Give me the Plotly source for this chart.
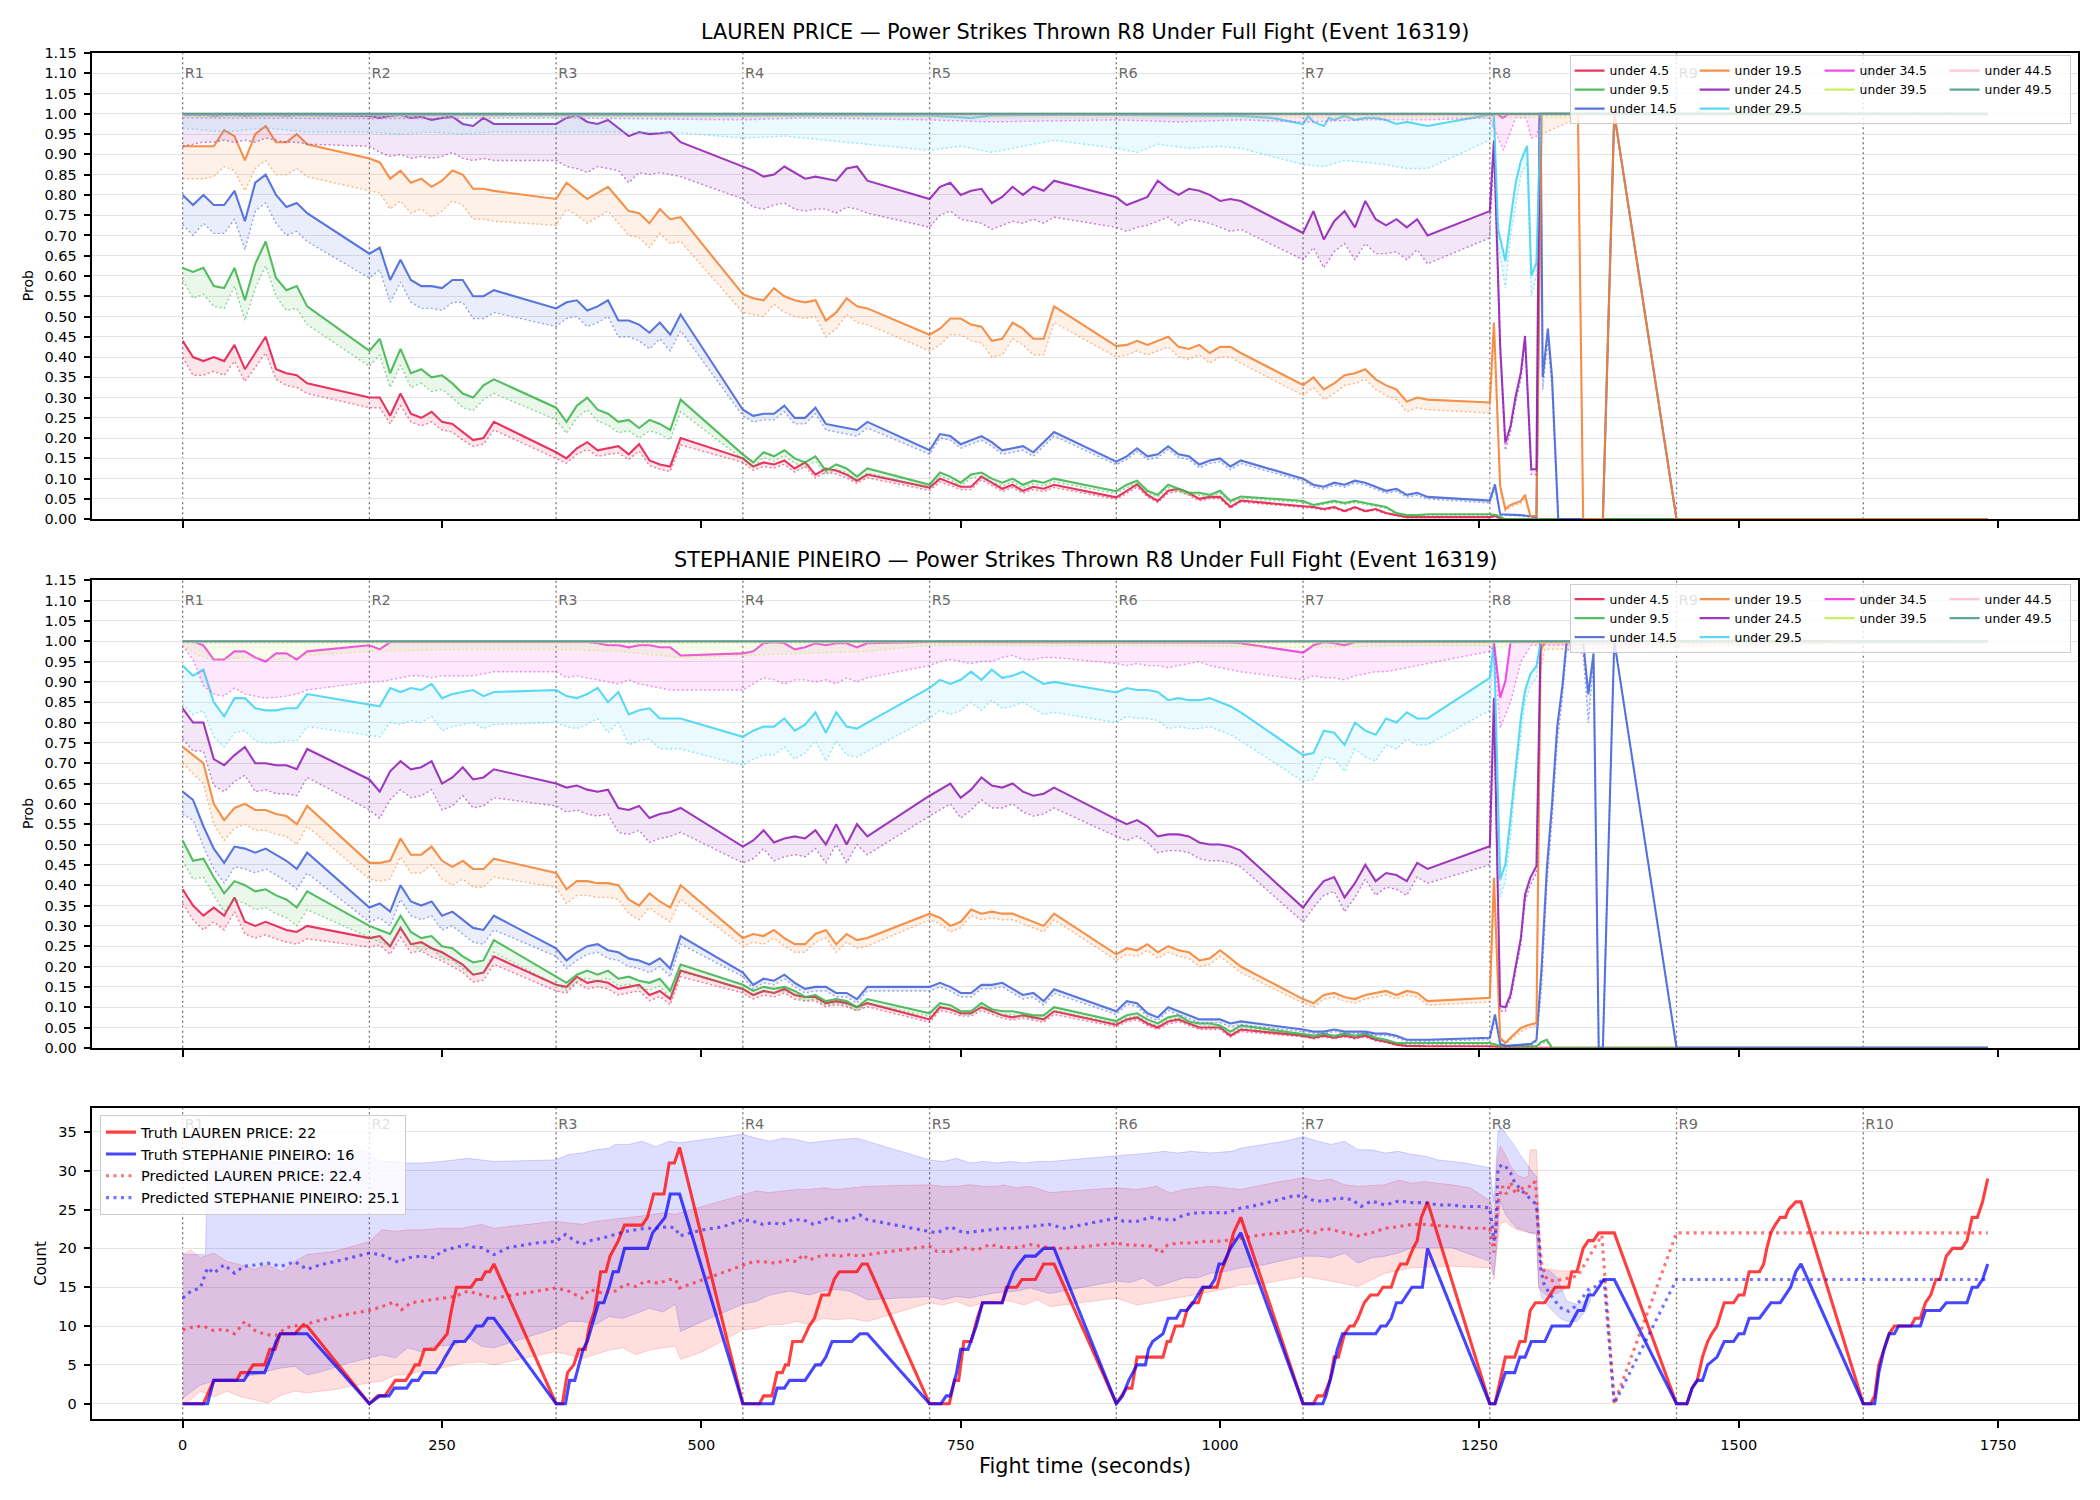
import plotly.graph_objects as go

FONT = "DejaVu Sans"
W, H = 2100, 1500

# ---------------------------------------------------------------- structure
ROUND_STARTS = [0, 180, 360, 540, 720, 900, 1080, 1260, 1440, 1620]
ROUND_NAMES = ["R1", "R2", "R3", "R4", "R5", "R6", "R7", "R8", "R9", "R10"]
GRID_OFFSETS = [0, 10, 20, 30, 40, 50, 60, 70, 80, 90, 100, 110, 120]

THRESHOLD_NAMES = ["under 4.5", "under 9.5", "under 14.5", "under 19.5", "under 24.5",
                   "under 29.5", "under 34.5", "under 39.5", "under 44.5", "under 49.5"]
THRESHOLD_COLORS = ["#e6194b", "#3cb44b", "#4363d8", "#f58231", "#911eb4",
                    "#42d4f4", "#f032e6", "#bfef45", "#fabed4", "#469990"]
LEGEND_COLUMN = [1, 1, 1, 2, 2, 2, 3, 3, 4, 4]

TITLE_LAUREN = "LAUREN PRICE \u2014 Power Strikes Thrown R8 Under Full Fight (Event 16319)"
TITLE_STEPH = "STEPHANIE PINEIRO \u2014 Power Strikes Thrown R8 Under Full Fight (Event 16319)"

# ================================================================ LAUREN PRICE
# rounds R1..R7 sampled every 10 s of the 120 s of action; tails as (t, p)
L_U4_MAIN = [
    [0.44, 0.40, 0.39, 0.40, 0.39, 0.43, 0.37, 0.41, 0.45, 0.37, 0.36, 0.355, 0.335],
    [0.30, 0.30, 0.255, 0.31, 0.26, 0.25, 0.265, 0.24, 0.235, 0.215, 0.195, 0.20, 0.24],
    [0.165, 0.15, 0.175, 0.19, 0.17, 0.175, 0.18, 0.16, 0.185, 0.145, 0.135, 0.13, 0.20],
    [0.15, 0.13, 0.14, 0.135, 0.145, 0.125, 0.14, 0.11, 0.125, 0.12, 0.11, 0.095, 0.11],
    [0.078, 0.10, 0.09, 0.08, 0.08, 0.105, 0.09, 0.075, 0.085, 0.07, 0.08, 0.075, 0.085],
    [0.054, 0.07, 0.086, 0.06, 0.045, 0.07, 0.075, 0.065, 0.05, 0.055, 0.055, 0.03, 0.046],
    [0.032, 0.03, 0.025, 0.03, 0.02, 0.03, 0.02, 0.025, 0.015, 0.01, 0.005, 0.005, 0.005]]
L_U4_LOW = [
    [0.40, 0.355, 0.355, 0.365, 0.355, 0.39, 0.34, 0.375, 0.41, 0.345, 0.33, 0.325, 0.31],
    [0.275, 0.275, 0.235, 0.28, 0.24, 0.23, 0.24, 0.22, 0.215, 0.195, 0.18, 0.185, 0.22],
    [0.15, 0.138, 0.16, 0.172, 0.155, 0.16, 0.163, 0.147, 0.168, 0.132, 0.123, 0.118, 0.183],
    [0.14, 0.121, 0.13, 0.126, 0.135, 0.116, 0.13, 0.102, 0.116, 0.111, 0.102, 0.088, 0.102],
    [0.071, 0.092, 0.083, 0.073, 0.073, 0.097, 0.083, 0.068, 0.078, 0.064, 0.073, 0.068, 0.078],
    [0.049, 0.064, 0.079, 0.055, 0.041, 0.064, 0.069, 0.059, 0.045, 0.05, 0.05, 0.027, 0.042],
    [0.029, 0.027, 0.022, 0.027, 0.018, 0.027, 0.018, 0.022, 0.013, 0.009, 0.004, 0.004, 0.004]]
L_U4_TAIL = [(1260, 0.005), (1265, 0.008), (1272, 0.0), (1740, 0.0)]
L_U4_TAIL_LOW = [(1260, 0.004), (1265, 0.006), (1272, 0.0), (1740, 0.0)]

L_U9_MAIN = [
    [0.62, 0.61, 0.62, 0.575, 0.57, 0.62, 0.54, 0.63, 0.685, 0.595, 0.565, 0.575, 0.525],
    [0.415, 0.445, 0.36, 0.42, 0.36, 0.37, 0.35, 0.355, 0.335, 0.31, 0.30, 0.33, 0.345],
    [0.275, 0.24, 0.28, 0.30, 0.27, 0.26, 0.24, 0.245, 0.225, 0.245, 0.235, 0.22, 0.295],
    [0.16, 0.14, 0.165, 0.155, 0.17, 0.15, 0.14, 0.155, 0.12, 0.135, 0.125, 0.105, 0.125],
    [0.085, 0.115, 0.105, 0.09, 0.11, 0.115, 0.10, 0.09, 0.10, 0.085, 0.095, 0.09, 0.10],
    [0.069, 0.085, 0.095, 0.07, 0.06, 0.085, 0.075, 0.065, 0.065, 0.06, 0.07, 0.045, 0.056],
    [0.045, 0.035, 0.04, 0.045, 0.04, 0.045, 0.04, 0.035, 0.03, 0.015, 0.01, 0.01, 0.012]]
L_U9_LOW = [
    [0.59, 0.545, 0.555, 0.525, 0.52, 0.575, 0.49, 0.57, 0.625, 0.55, 0.515, 0.52, 0.48],
    [0.377, 0.405, 0.325, 0.38, 0.325, 0.335, 0.315, 0.32, 0.30, 0.275, 0.268, 0.295, 0.31],
    [0.245, 0.212, 0.25, 0.27, 0.242, 0.232, 0.213, 0.218, 0.2, 0.218, 0.21, 0.196, 0.265],
    [0.148, 0.128, 0.152, 0.143, 0.157, 0.138, 0.128, 0.143, 0.109, 0.123, 0.114, 0.095, 0.114],
    [0.077, 0.106, 0.097, 0.082, 0.101, 0.106, 0.092, 0.082, 0.092, 0.077, 0.087, 0.082, 0.092],
    [0.063, 0.078, 0.088, 0.064, 0.055, 0.078, 0.069, 0.059, 0.059, 0.055, 0.064, 0.04, 0.051],
    [0.041, 0.032, 0.036, 0.041, 0.036, 0.041, 0.036, 0.032, 0.027, 0.013, 0.008, 0.008, 0.01]]
L_U9_TAIL = [(1260, 0.012), (1266, 0.01), (1275, 0.0), (1740, 0.0)]
L_U9_TAIL_LOW = [(1260, 0.01), (1266, 0.008), (1275, 0.0), (1740, 0.0)]

L_U14_MAIN = [
    [0.80, 0.775, 0.80, 0.775, 0.775, 0.81, 0.735, 0.83, 0.85, 0.80, 0.77, 0.78, 0.755],
    [0.655, 0.67, 0.59, 0.64, 0.59, 0.575, 0.575, 0.57, 0.59, 0.59, 0.55, 0.55, 0.565],
    [0.52, 0.535, 0.54, 0.515, 0.525, 0.54, 0.49, 0.49, 0.48, 0.46, 0.485, 0.455, 0.505],
    [0.27, 0.255, 0.26, 0.26, 0.28, 0.25, 0.25, 0.275, 0.235, 0.23, 0.225, 0.22, 0.24],
    [0.17, 0.21, 0.205, 0.185, 0.195, 0.205, 0.19, 0.17, 0.175, 0.18, 0.165, 0.19, 0.215],
    [0.142, 0.155, 0.175, 0.155, 0.16, 0.18, 0.16, 0.155, 0.135, 0.145, 0.15, 0.13, 0.145],
    [0.10, 0.085, 0.08, 0.09, 0.085, 0.095, 0.09, 0.08, 0.07, 0.075, 0.06, 0.065, 0.055]]
L_U14_LOW = [
    [0.727, 0.70, 0.73, 0.705, 0.705, 0.74, 0.665, 0.76, 0.78, 0.73, 0.70, 0.71, 0.685],
    [0.595, 0.615, 0.535, 0.585, 0.535, 0.52, 0.52, 0.515, 0.535, 0.535, 0.495, 0.495, 0.51],
    [0.475, 0.495, 0.50, 0.475, 0.485, 0.50, 0.45, 0.45, 0.44, 0.42, 0.445, 0.415, 0.465],
    [0.255, 0.24, 0.245, 0.245, 0.265, 0.235, 0.235, 0.26, 0.22, 0.215, 0.21, 0.205, 0.225],
    [0.16, 0.2, 0.195, 0.175, 0.185, 0.195, 0.18, 0.16, 0.165, 0.17, 0.155, 0.18, 0.205],
    [0.134, 0.147, 0.167, 0.147, 0.152, 0.172, 0.152, 0.147, 0.127, 0.137, 0.142, 0.122, 0.137],
    [0.094, 0.079, 0.074, 0.084, 0.079, 0.089, 0.084, 0.074, 0.064, 0.069, 0.054, 0.059, 0.05]]
L_U14_TAIL = [(1260, 0.046), (1265, 0.086), (1270, 0.012), (1290, 0.01), (1305, 0.005),
              (1309, 1.0), (1311, 0.35), (1316, 0.47), (1320, 0.35), (1326, 0.0),
              (1369, 0.0), (1380, 1.0), (1440, 0.0), (1740, 0.0)]
L_U14_TAIL_LOW = [(1260, 0.04), (1265, 0.075), (1270, 0.01), (1290, 0.008), (1305, 0.004),
                  (1309, 0.98), (1311, 0.32), (1316, 0.44), (1320, 0.32), (1326, 0.0),
                  (1369, 0.0), (1380, 1.0), (1440, 0.0), (1740, 0.0)]

L_U19_MAIN = [
    [0.92, 0.92, 0.92, 0.92, 0.96, 0.945, 0.885, 0.95, 0.97, 0.93, 0.93, 0.95, 0.925],
    [0.89, 0.88, 0.84, 0.86, 0.83, 0.84, 0.82, 0.835, 0.86, 0.85, 0.815, 0.815, 0.81],
    [0.79, 0.83, 0.81, 0.79, 0.805, 0.82, 0.79, 0.76, 0.755, 0.73, 0.765, 0.74, 0.745],
    [0.555, 0.545, 0.54, 0.57, 0.55, 0.54, 0.535, 0.54, 0.49, 0.51, 0.545, 0.525, 0.52],
    [0.455, 0.47, 0.495, 0.495, 0.48, 0.475, 0.44, 0.445, 0.485, 0.47, 0.445, 0.445, 0.525],
    [0.427, 0.43, 0.44, 0.43, 0.44, 0.45, 0.425, 0.42, 0.43, 0.41, 0.425, 0.425, 0.41],
    [0.331, 0.35, 0.32, 0.335, 0.355, 0.36, 0.37, 0.345, 0.33, 0.32, 0.29, 0.30, 0.295]]
L_U19_LOW = [
    [0.84, 0.84, 0.84, 0.845, 0.87, 0.86, 0.81, 0.865, 0.885, 0.85, 0.85, 0.865, 0.845],
    [0.81, 0.805, 0.765, 0.785, 0.755, 0.765, 0.745, 0.76, 0.785, 0.775, 0.74, 0.74, 0.735],
    [0.725, 0.765, 0.75, 0.73, 0.745, 0.76, 0.73, 0.70, 0.695, 0.67, 0.705, 0.68, 0.685],
    [0.51, 0.505, 0.50, 0.53, 0.51, 0.50, 0.495, 0.50, 0.45, 0.47, 0.505, 0.485, 0.48],
    [0.415, 0.43, 0.455, 0.455, 0.44, 0.435, 0.40, 0.405, 0.445, 0.43, 0.405, 0.405, 0.485],
    [0.40, 0.405, 0.415, 0.405, 0.415, 0.425, 0.40, 0.395, 0.405, 0.385, 0.40, 0.40, 0.385],
    [0.305, 0.325, 0.295, 0.31, 0.33, 0.335, 0.345, 0.32, 0.305, 0.295, 0.265, 0.275, 0.27]]
L_U19_TAIL = [(1260, 0.288), (1264, 0.485), (1270, 0.082), (1275, 0.025), (1280, 0.035),
              (1285, 0.04), (1290, 0.045), (1294, 0.06), (1299, 0.008), (1305, 0.008),
              (1310, 1.0), (1345, 1.0), (1350, 0.0), (1369, 0.0), (1380, 1.0),
              (1440, 0.0), (1740, 0.0)]
L_U19_TAIL_LOW = [(1260, 0.262), (1264, 0.46), (1270, 0.07), (1275, 0.02), (1280, 0.03),
                  (1285, 0.035), (1290, 0.04), (1294, 0.05), (1299, 0.005), (1305, 0.005),
                  (1310, 0.95), (1345, 0.99), (1350, 0.0), (1369, 0.0), (1380, 1.0),
                  (1440, 0.0), (1740, 0.0)]

L_U24_MAIN = [
    [0.998, 0.997, 0.998, 0.996, 0.997, 0.998, 0.996, 0.997, 0.998, 0.997, 0.996, 0.997, 0.997],
    [0.995, 0.99, 0.995, 0.998, 0.99, 0.993, 0.985, 0.99, 0.993, 0.975, 0.97, 0.99, 0.975],
    [0.975, 0.99, 0.997, 0.98, 0.975, 0.985, 0.965, 0.945, 0.955, 0.95, 0.952, 0.955, 0.93],
    [0.87, 0.86, 0.845, 0.85, 0.87, 0.855, 0.84, 0.845, 0.84, 0.835, 0.865, 0.87, 0.835],
    [0.79, 0.82, 0.83, 0.80, 0.81, 0.815, 0.78, 0.795, 0.82, 0.80, 0.82, 0.81, 0.835],
    [0.794, 0.775, 0.785, 0.795, 0.835, 0.815, 0.80, 0.815, 0.81, 0.80, 0.785, 0.79, 0.785],
    [0.706, 0.76, 0.69, 0.735, 0.76, 0.72, 0.785, 0.74, 0.725, 0.74, 0.72, 0.74, 0.70]]
L_U24_LOW = [
    [0.92, 0.925, 0.93, 0.93, 0.935, 0.93, 0.935, 0.93, 0.94, 0.935, 0.93, 0.93, 0.925],
    [0.92, 0.905, 0.895, 0.90, 0.89, 0.895, 0.89, 0.895, 0.905, 0.89, 0.885, 0.89, 0.885],
    [0.885, 0.87, 0.865, 0.855, 0.87, 0.865, 0.86, 0.83, 0.855, 0.85, 0.855, 0.85, 0.845],
    [0.79, 0.77, 0.765, 0.775, 0.78, 0.765, 0.76, 0.765, 0.765, 0.755, 0.77, 0.765, 0.755],
    [0.72, 0.75, 0.76, 0.74, 0.735, 0.73, 0.715, 0.725, 0.735, 0.73, 0.74, 0.73, 0.745],
    [0.72, 0.71, 0.72, 0.725, 0.735, 0.745, 0.725, 0.74, 0.735, 0.73, 0.72, 0.71, 0.715],
    [0.64, 0.67, 0.62, 0.66, 0.68, 0.64, 0.68, 0.655, 0.655, 0.66, 0.64, 0.665, 0.63]]
L_U24_TAIL = [(1260, 0.76), (1264, 0.934), (1270, 0.428), (1275, 0.189), (1280, 0.23),
              (1285, 0.304), (1290, 0.362), (1294, 0.452), (1300, 0.123), (1305, 0.123),
              (1308, 1.0), (1740, 1.0)]
L_U24_TAIL_LOW = [(1260, 0.694), (1264, 0.91), (1270, 0.41), (1275, 0.17), (1280, 0.215),
                  (1285, 0.29), (1290, 0.345), (1294, 0.44), (1300, 0.11), (1305, 0.11),
                  (1308, 1.0), (1740, 1.0)]

L_U29_MAIN_PTS = [(0, 0.997), (180, 0.997), (360, 0.997), (480, 0.997), (540, 0.997),
                  (720, 0.996), (760, 0.99), (780, 0.996), (840, 0.997), (900, 0.997),
                  (1020, 0.995), (1050, 0.99), (1080, 0.975), (1085, 0.995), (1090, 0.98),
                  (1100, 0.97), (1105, 0.99), (1110, 0.985), (1120, 0.995), (1130, 0.985),
                  (1140, 0.99), (1150, 0.99), (1160, 0.985), (1170, 0.975), (1180, 0.98),
                  (1190, 0.975), (1200, 0.97), (1260, 0.998), (1264, 0.995), (1268, 0.716),
                  (1275, 0.637), (1280, 0.74), (1285, 0.831), (1290, 0.884), (1296, 0.921),
                  (1300, 0.601), (1305, 0.633), (1309, 1.0), (1740, 1.0)]
L_U29_LOW_PTS = [(0, 0.965), (20, 0.96), (40, 0.955), (60, 0.96), (80, 0.965), (100, 0.96),
                 (120, 0.955), (180, 0.955), (210, 0.95), (240, 0.955), (270, 0.95), (300, 0.955),
                 (360, 0.955), (400, 0.955), (480, 0.953), (540, 0.94), (580, 0.945), (620, 0.935),
                 (660, 0.925), (720, 0.91), (750, 0.92), (780, 0.905), (810, 0.92), (840, 0.935),
                 (900, 0.915), (920, 0.905), (940, 0.925), (970, 0.915), (1000, 0.92), (1020, 0.915),
                 (1080, 0.875), (1100, 0.87), (1120, 0.885), (1140, 0.88), (1160, 0.875),
                 (1180, 0.865), (1200, 0.865), (1260, 0.935), (1264, 0.99), (1268, 0.68),
                 (1275, 0.57), (1280, 0.70), (1290, 0.85), (1296, 0.88), (1300, 0.55),
                 (1305, 0.60), (1309, 1.0), (1740, 1.0)]
L_U34_MAIN_PTS = [(0, 0.999), (1268, 0.999), (1272, 0.99), (1278, 0.999), (1740, 0.999)]
L_U34_LOW_PTS = [(0, 0.99), (180, 0.988), (360, 0.99), (540, 0.985), (600, 0.99), (720, 0.985),
                 (780, 0.98), (900, 0.985), (960, 0.98), (1020, 0.985), (1080, 0.98),
                 (1140, 0.985), (1200, 0.985), (1260, 0.99), (1273, 0.91), (1285, 0.99),
                 (1295, 0.99), (1300, 0.94), (1305, 0.945), (1310, 1.0), (1740, 1.0)]
L_U39_MAIN_PTS = [(0, 1.0), (1740, 1.0)]
L_U39_LOW_PTS = [(0, 0.991), (1740, 0.991)]
L_U44_MAIN_PTS = [(0, 1.0), (1740, 1.0)]
L_U44_LOW_PTS = [(0, 0.996), (1740, 0.996)]
L_U49_MAIN_PTS = [(0, 1.0), (1740, 1.0)]
L_U49_LOW_PTS = [(0, 0.999), (1740, 0.999)]

# ============================================================ STEPHANIE PINEIRO
S_U4_MAIN = [
    [0.39, 0.35, 0.325, 0.345, 0.325, 0.37, 0.31, 0.30, 0.31, 0.30, 0.29, 0.285, 0.30],
    [0.27, 0.275, 0.25, 0.295, 0.255, 0.26, 0.245, 0.235, 0.22, 0.205, 0.18, 0.185, 0.225],
    [0.155, 0.15, 0.175, 0.16, 0.165, 0.16, 0.145, 0.15, 0.155, 0.13, 0.14, 0.12, 0.19],
    [0.145, 0.13, 0.14, 0.135, 0.145, 0.13, 0.125, 0.125, 0.11, 0.115, 0.11, 0.10, 0.11],
    [0.07, 0.10, 0.095, 0.085, 0.085, 0.10, 0.09, 0.08, 0.075, 0.08, 0.075, 0.07, 0.09],
    [0.057, 0.07, 0.075, 0.06, 0.05, 0.065, 0.07, 0.06, 0.05, 0.05, 0.05, 0.03, 0.045],
    [0.03, 0.025, 0.03, 0.025, 0.03, 0.025, 0.03, 0.02, 0.015, 0.008, 0.005, 0.004, 0.004]]
S_U4_LOW = [
    [0.355, 0.315, 0.29, 0.31, 0.29, 0.335, 0.28, 0.27, 0.278, 0.268, 0.26, 0.255, 0.268],
    [0.248, 0.253, 0.23, 0.272, 0.234, 0.238, 0.224, 0.214, 0.2, 0.186, 0.162, 0.166, 0.205],
    [0.14, 0.135, 0.16, 0.145, 0.15, 0.145, 0.13, 0.135, 0.14, 0.116, 0.126, 0.106, 0.175],
    [0.135, 0.12, 0.13, 0.125, 0.135, 0.12, 0.115, 0.115, 0.101, 0.106, 0.101, 0.092, 0.101],
    [0.063, 0.092, 0.087, 0.078, 0.078, 0.092, 0.082, 0.073, 0.068, 0.073, 0.068, 0.063, 0.082],
    [0.052, 0.064, 0.069, 0.055, 0.045, 0.059, 0.064, 0.055, 0.045, 0.045, 0.045, 0.026, 0.04],
    [0.027, 0.022, 0.027, 0.022, 0.027, 0.022, 0.027, 0.017, 0.013, 0.006, 0.004, 0.003, 0.003]]
S_U4_TAIL = [(1260, 0.004), (1270, 0.002), (1280, 0.0), (1740, 0.0)]
S_U4_TAIL_LOW = [(1260, 0.003), (1270, 0.001), (1280, 0.0), (1740, 0.0)]

S_U9_MAIN = [
    [0.51, 0.46, 0.465, 0.42, 0.38, 0.41, 0.40, 0.385, 0.39, 0.375, 0.365, 0.345, 0.385],
    [0.30, 0.29, 0.28, 0.325, 0.285, 0.27, 0.275, 0.25, 0.245, 0.225, 0.21, 0.215, 0.265],
    [0.175, 0.16, 0.18, 0.19, 0.18, 0.19, 0.17, 0.175, 0.165, 0.16, 0.17, 0.14, 0.205],
    [0.155, 0.14, 0.15, 0.145, 0.15, 0.14, 0.125, 0.13, 0.115, 0.12, 0.115, 0.10, 0.12],
    [0.085, 0.11, 0.105, 0.09, 0.09, 0.11, 0.095, 0.09, 0.09, 0.085, 0.08, 0.08, 0.10],
    [0.066, 0.08, 0.085, 0.07, 0.06, 0.075, 0.08, 0.065, 0.06, 0.06, 0.055, 0.04, 0.055],
    [0.035, 0.03, 0.035, 0.03, 0.035, 0.03, 0.035, 0.025, 0.02, 0.012, 0.012, 0.012, 0.012]]
S_U9_LOW = [
    [0.46, 0.415, 0.42, 0.375, 0.335, 0.365, 0.355, 0.34, 0.345, 0.33, 0.32, 0.30, 0.34],
    [0.27, 0.26, 0.25, 0.295, 0.255, 0.24, 0.245, 0.22, 0.215, 0.195, 0.18, 0.185, 0.235],
    [0.157, 0.142, 0.162, 0.172, 0.162, 0.172, 0.152, 0.157, 0.147, 0.142, 0.152, 0.122, 0.187],
    [0.145, 0.13, 0.14, 0.135, 0.14, 0.13, 0.115, 0.12, 0.105, 0.11, 0.105, 0.09, 0.11],
    [0.077, 0.102, 0.097, 0.082, 0.082, 0.102, 0.087, 0.082, 0.082, 0.077, 0.072, 0.072, 0.092],
    [0.06, 0.074, 0.079, 0.064, 0.054, 0.069, 0.074, 0.059, 0.054, 0.054, 0.049, 0.035, 0.049],
    [0.031, 0.026, 0.031, 0.026, 0.031, 0.026, 0.031, 0.021, 0.016, 0.009, 0.009, 0.009, 0.009]]
S_U9_TAIL = [(1260, 0.012), (1270, 0.005), (1305, 0.004), (1310, 0.015), (1315, 0.02),
             (1320, 0.0), (1740, 0.0)]
S_U9_TAIL_LOW = [(1260, 0.009), (1270, 0.003), (1305, 0.003), (1310, 0.01), (1315, 0.015),
                 (1320, 0.0), (1740, 0.0)]

S_U14_MAIN = [
    [0.63, 0.61, 0.545, 0.49, 0.455, 0.495, 0.49, 0.48, 0.49, 0.475, 0.46, 0.44, 0.48],
    [0.345, 0.355, 0.335, 0.40, 0.36, 0.35, 0.36, 0.325, 0.335, 0.315, 0.295, 0.29, 0.325],
    [0.245, 0.215, 0.235, 0.25, 0.255, 0.24, 0.235, 0.22, 0.215, 0.205, 0.22, 0.195, 0.275],
    [0.185, 0.155, 0.17, 0.165, 0.18, 0.16, 0.145, 0.15, 0.15, 0.135, 0.135, 0.12, 0.15],
    [0.15, 0.16, 0.15, 0.135, 0.135, 0.155, 0.155, 0.16, 0.145, 0.13, 0.135, 0.115, 0.144],
    [0.09, 0.115, 0.11, 0.085, 0.075, 0.10, 0.09, 0.08, 0.07, 0.07, 0.07, 0.06, 0.065],
    [0.045, 0.04, 0.04, 0.045, 0.04, 0.04, 0.04, 0.035, 0.035, 0.03, 0.02, 0.02, 0.02]]
S_U14_LOW = [
    [0.575, 0.56, 0.495, 0.44, 0.405, 0.445, 0.44, 0.43, 0.44, 0.425, 0.41, 0.39, 0.43],
    [0.31, 0.32, 0.30, 0.365, 0.325, 0.315, 0.325, 0.29, 0.30, 0.28, 0.26, 0.255, 0.29],
    [0.225, 0.195, 0.215, 0.23, 0.235, 0.22, 0.215, 0.2, 0.195, 0.185, 0.2, 0.175, 0.255],
    [0.175, 0.145, 0.16, 0.155, 0.17, 0.15, 0.135, 0.14, 0.14, 0.125, 0.125, 0.11, 0.14],
    [0.14, 0.15, 0.14, 0.125, 0.125, 0.145, 0.145, 0.15, 0.135, 0.12, 0.125, 0.105, 0.134],
    [0.082, 0.107, 0.102, 0.077, 0.067, 0.092, 0.082, 0.072, 0.062, 0.062, 0.062, 0.052, 0.057],
    [0.04, 0.035, 0.035, 0.04, 0.035, 0.035, 0.035, 0.03, 0.03, 0.025, 0.016, 0.016, 0.016]]
S_U14_TAIL = [(1260, 0.025), (1265, 0.082), (1270, 0.01), (1275, 0.005), (1300, 0.01),
              (1305, 0.02), (1310, 0.2), (1315, 0.44), (1320, 0.6), (1325, 0.79),
              (1330, 0.89), (1334, 1.0), (1350, 1.0), (1355, 0.87), (1360, 0.97),
              (1365, 0.0), (1369, 0.0), (1380, 1.0), (1440, 0.0), (1740, 0.0)]
S_U14_TAIL_LOW = [(1260, 0.02), (1265, 0.07), (1270, 0.008), (1275, 0.004), (1300, 0.008),
                  (1305, 0.015), (1310, 0.15), (1315, 0.4), (1320, 0.56), (1325, 0.75),
                  (1330, 0.86), (1334, 0.98), (1350, 0.97), (1355, 0.8), (1360, 0.95),
                  (1365, 0.0), (1369, 0.0), (1380, 1.0), (1440, 0.0), (1740, 0.0)]

S_U19_MAIN = [
    [0.74, 0.72, 0.70, 0.60, 0.56, 0.59, 0.60, 0.585, 0.585, 0.575, 0.57, 0.55, 0.595],
    [0.455, 0.455, 0.46, 0.515, 0.475, 0.475, 0.495, 0.46, 0.445, 0.46, 0.44, 0.44, 0.465],
    [0.43, 0.39, 0.41, 0.41, 0.405, 0.405, 0.40, 0.365, 0.35, 0.38, 0.36, 0.345, 0.40],
    [0.27, 0.28, 0.275, 0.29, 0.27, 0.255, 0.255, 0.28, 0.29, 0.255, 0.28, 0.265, 0.27],
    [0.33, 0.32, 0.30, 0.31, 0.34, 0.33, 0.335, 0.33, 0.33, 0.32, 0.31, 0.30, 0.33],
    [0.23, 0.245, 0.24, 0.255, 0.235, 0.25, 0.24, 0.235, 0.215, 0.22, 0.24, 0.22, 0.20],
    [0.12, 0.11, 0.13, 0.135, 0.125, 0.12, 0.13, 0.135, 0.14, 0.13, 0.14, 0.135, 0.115]]
S_U19_LOW = [
    [0.70, 0.675, 0.65, 0.55, 0.51, 0.54, 0.55, 0.535, 0.535, 0.525, 0.52, 0.50, 0.545],
    [0.415, 0.41, 0.415, 0.47, 0.43, 0.43, 0.45, 0.415, 0.40, 0.415, 0.395, 0.395, 0.42],
    [0.395, 0.355, 0.375, 0.375, 0.37, 0.37, 0.365, 0.33, 0.315, 0.345, 0.325, 0.31, 0.365],
    [0.25, 0.26, 0.255, 0.27, 0.25, 0.235, 0.235, 0.26, 0.27, 0.235, 0.26, 0.245, 0.25],
    [0.315, 0.305, 0.285, 0.295, 0.325, 0.315, 0.32, 0.315, 0.315, 0.305, 0.295, 0.285, 0.315],
    [0.215, 0.23, 0.225, 0.24, 0.22, 0.235, 0.225, 0.22, 0.20, 0.205, 0.225, 0.205, 0.185],
    [0.11, 0.10, 0.12, 0.125, 0.115, 0.11, 0.12, 0.125, 0.13, 0.12, 0.13, 0.125, 0.105]]
S_U19_TAIL = [(1260, 0.123), (1264, 0.418), (1270, 0.025), (1275, 0.012), (1280, 0.025),
              (1285, 0.037), (1290, 0.049), (1298, 0.057), (1305, 0.061), (1309, 0.976),
              (1313, 1.0), (1740, 1.0)]
S_U19_TAIL_LOW = [(1260, 0.113), (1264, 0.39), (1270, 0.02), (1275, 0.008), (1280, 0.02),
                  (1285, 0.03), (1290, 0.04), (1298, 0.05), (1305, 0.054), (1309, 0.93),
                  (1313, 0.98), (1740, 1.0)]

S_U24_MAIN = [
    [0.835, 0.80, 0.80, 0.71, 0.695, 0.72, 0.74, 0.70, 0.70, 0.695, 0.695, 0.685, 0.735],
    [0.66, 0.63, 0.68, 0.705, 0.685, 0.69, 0.705, 0.65, 0.665, 0.69, 0.66, 0.665, 0.685],
    [0.65, 0.64, 0.645, 0.635, 0.63, 0.635, 0.59, 0.585, 0.595, 0.565, 0.575, 0.58, 0.59],
    [0.495, 0.51, 0.535, 0.505, 0.515, 0.52, 0.515, 0.535, 0.50, 0.55, 0.50, 0.55, 0.52],
    [0.62, 0.635, 0.65, 0.615, 0.635, 0.665, 0.645, 0.64, 0.65, 0.63, 0.62, 0.625, 0.64],
    [0.562, 0.55, 0.56, 0.545, 0.52, 0.525, 0.525, 0.52, 0.505, 0.50, 0.50, 0.495, 0.485],
    [0.345, 0.38, 0.41, 0.42, 0.37, 0.405, 0.45, 0.41, 0.43, 0.425, 0.41, 0.455, 0.44]]
S_U24_LOW = [
    [0.76, 0.73, 0.73, 0.645, 0.63, 0.655, 0.67, 0.63, 0.635, 0.625, 0.625, 0.62, 0.665],
    [0.585, 0.565, 0.61, 0.635, 0.615, 0.62, 0.635, 0.585, 0.595, 0.62, 0.59, 0.595, 0.615],
    [0.595, 0.58, 0.585, 0.575, 0.57, 0.575, 0.53, 0.525, 0.535, 0.505, 0.515, 0.52, 0.53],
    [0.455, 0.465, 0.49, 0.46, 0.47, 0.475, 0.47, 0.49, 0.455, 0.5, 0.455, 0.5, 0.475],
    [0.57, 0.585, 0.60, 0.565, 0.585, 0.61, 0.59, 0.59, 0.60, 0.58, 0.57, 0.575, 0.59],
    [0.52, 0.51, 0.52, 0.505, 0.48, 0.485, 0.485, 0.48, 0.465, 0.46, 0.46, 0.455, 0.445],
    [0.31, 0.345, 0.375, 0.385, 0.335, 0.37, 0.415, 0.375, 0.395, 0.39, 0.375, 0.42, 0.405]]
S_U24_TAIL = [(1260, 0.496), (1264, 0.861), (1270, 0.103), (1275, 0.10), (1280, 0.131),
              (1285, 0.205), (1290, 0.271), (1294, 0.377), (1299, 0.418), (1305, 0.447),
              (1309, 1.0), (1740, 1.0)]
S_U24_TAIL_LOW = [(1260, 0.45), (1264, 0.82), (1270, 0.09), (1275, 0.09), (1280, 0.12),
                  (1285, 0.19), (1290, 0.255), (1294, 0.36), (1299, 0.40), (1305, 0.43),
                  (1309, 1.0), (1740, 1.0)]

S_U29_MAIN = [
    [0.94, 0.915, 0.93, 0.85, 0.815, 0.86, 0.86, 0.835, 0.83, 0.83, 0.835, 0.835, 0.87],
    [0.845, 0.84, 0.885, 0.875, 0.885, 0.88, 0.895, 0.86, 0.87, 0.875, 0.88, 0.865, 0.875],
    [0.88, 0.865, 0.86, 0.87, 0.885, 0.85, 0.875, 0.82, 0.83, 0.835, 0.81, 0.81, 0.81],
    [0.765, 0.78, 0.79, 0.79, 0.81, 0.78, 0.795, 0.825, 0.775, 0.825, 0.79, 0.785, 0.80],
    [0.885, 0.905, 0.895, 0.905, 0.925, 0.905, 0.93, 0.91, 0.915, 0.925, 0.91, 0.895, 0.90],
    [0.874, 0.885, 0.88, 0.88, 0.875, 0.855, 0.86, 0.855, 0.855, 0.86, 0.85, 0.84, 0.825],
    [0.72, 0.725, 0.78, 0.775, 0.745, 0.80, 0.78, 0.77, 0.81, 0.80, 0.825, 0.81, 0.81]]
S_U29_LOW = [
    [0.845, 0.82, 0.83, 0.765, 0.74, 0.775, 0.78, 0.755, 0.75, 0.75, 0.755, 0.755, 0.79],
    [0.77, 0.765, 0.80, 0.795, 0.805, 0.80, 0.815, 0.78, 0.79, 0.795, 0.80, 0.785, 0.795],
    [0.80, 0.79, 0.785, 0.795, 0.81, 0.775, 0.80, 0.745, 0.755, 0.76, 0.735, 0.735, 0.735],
    [0.695, 0.71, 0.72, 0.72, 0.74, 0.71, 0.725, 0.755, 0.705, 0.755, 0.72, 0.715, 0.73],
    [0.81, 0.83, 0.82, 0.83, 0.85, 0.83, 0.855, 0.835, 0.84, 0.85, 0.835, 0.82, 0.825],
    [0.80, 0.815, 0.81, 0.81, 0.805, 0.785, 0.79, 0.785, 0.785, 0.79, 0.78, 0.77, 0.755],
    [0.655, 0.66, 0.715, 0.71, 0.68, 0.735, 0.715, 0.705, 0.745, 0.735, 0.76, 0.745, 0.745]]
S_U29_TAIL = [(1260, 0.91), (1264, 1.0), (1270, 0.414), (1275, 0.451), (1280, 0.566),
              (1285, 0.697), (1290, 0.812), (1294, 0.878), (1299, 0.919), (1305, 0.939),
              (1309, 1.0), (1740, 1.0)]
S_U29_TAIL_LOW = [(1260, 0.83), (1264, 0.99), (1270, 0.37), (1275, 0.41), (1280, 0.52),
                  (1285, 0.66), (1290, 0.77), (1294, 0.85), (1299, 0.89), (1305, 0.91),
                  (1309, 1.0), (1740, 1.0)]

S_U34_MAIN = [
    [1.0, 1.0, 0.99, 0.955, 0.955, 0.975, 0.975, 0.96, 0.95, 0.97, 0.97, 0.955, 0.975],
    [0.99, 0.98, 0.998, 0.998, 0.998, 0.998, 0.998, 0.998, 0.998, 0.998, 0.998, 0.998, 0.998],
    [0.998, 0.998, 0.998, 0.998, 0.995, 0.99, 0.99, 0.985, 0.99, 0.99, 0.985, 0.985, 0.965],
    [0.97, 0.975, 0.995, 0.998, 0.995, 0.98, 0.985, 0.995, 0.99, 0.995, 0.995, 0.985, 0.995],
    [0.998, 0.998, 0.998, 0.998, 0.998, 0.998, 0.998, 0.998, 0.998, 0.998, 0.998, 0.998, 0.998],
    [0.998, 0.998, 0.998, 0.998, 0.998, 0.998, 0.998, 0.998, 0.998, 0.998, 0.998, 0.997, 0.995],
    [0.972, 0.99, 0.998, 0.995, 0.99, 0.998, 0.998, 0.998, 0.998, 0.998, 0.998, 0.998, 0.998]]
S_U34_LOW = [
    [0.99, 0.955, 0.89, 0.87, 0.865, 0.885, 0.87, 0.865, 0.86, 0.862, 0.865, 0.87, 0.88],
    [0.90, 0.90, 0.905, 0.91, 0.915, 0.915, 0.91, 0.915, 0.915, 0.915, 0.915, 0.92, 0.925],
    [0.925, 0.91, 0.915, 0.91, 0.905, 0.90, 0.895, 0.905, 0.895, 0.89, 0.885, 0.88, 0.88],
    [0.88, 0.895, 0.91, 0.905, 0.895, 0.905, 0.905, 0.90, 0.905, 0.895, 0.91, 0.90, 0.91],
    [0.94, 0.95, 0.955, 0.95, 0.945, 0.95, 0.95, 0.96, 0.965, 0.955, 0.955, 0.96, 0.96],
    [0.945, 0.94, 0.945, 0.94, 0.94, 0.935, 0.94, 0.945, 0.95, 0.94, 0.935, 0.93, 0.925],
    [0.905, 0.915, 0.91, 0.91, 0.905, 0.915, 0.92, 0.925, 0.925, 0.93, 0.935, 0.94, 0.945]]
S_U34_TAIL = [(1260, 0.998), (1264, 0.998), (1270, 0.861), (1275, 0.902), (1280, 0.998),
              (1740, 0.998)]
S_U34_TAIL_LOW = [(1260, 0.975), (1264, 0.99), (1270, 0.787), (1280, 0.85), (1290, 0.95),
                  (1300, 0.99), (1740, 0.999)]
S_U39_MAIN_PTS = [(0, 0.999), (1740, 0.999)]
S_U39_LOW_PTS = [(0, 0.99), (15, 0.965), (30, 0.955), (60, 0.96), (90, 0.955), (120, 0.965),
                 (180, 0.975), (270, 0.98), (360, 0.98), (420, 0.975), (480, 0.96), (540, 0.965),
                 (660, 0.975), (720, 0.99), (900, 0.99), (1080, 0.985), (1200, 0.99),
                 (1260, 0.99), (1270, 0.985), (1280, 0.995), (1740, 0.995)]
S_U44_MAIN_PTS = [(0, 1.0), (1740, 1.0)]
S_U44_LOW_PTS = [(0, 0.995), (1740, 0.995)]
S_U49_MAIN_PTS = [(0, 1.0), (1740, 1.0)]
S_U49_LOW_PTS = [(0, 0.999), (1740, 0.999)]

# ================================================================ COUNTS
TRUTH_LAUREN = [
    (0, 0), (20, 0), (30, 3), (52, 3), (56, 4), (63, 4), (68, 5), (79, 5), (84, 7), (89, 7),
    (94, 9), (108, 9), (115, 10), (120, 10),
    (180, 0), (188, 1), (195, 1), (205, 3), (215, 3), (220, 4), (224, 5), (228, 5), (233, 7),
    (243, 7), (249, 8), (255, 9), (259, 12), (264, 15), (278, 15), (283, 16), (288, 16),
    (292, 17), (296, 17), (300, 18),
    (360, 0), (366, 0), (371, 4), (377, 5), (382, 7), (388, 7), (392, 10), (397, 12), (403, 17),
    (408, 17), (412, 19), (416, 20), (420, 21), (426, 23), (443, 23), (448, 24), (454, 27),
    (464, 27), (469, 31), (474, 31), (479, 33),
    (540, 0), (556, 0), (560, 1), (568, 1), (573, 4), (578, 4), (581, 5), (584, 5), (588, 8),
    (597, 8), (604, 10), (609, 11), (616, 14), (623, 14), (628, 16), (633, 17), (650, 17),
    (655, 18), (660, 18),
    (720, 0), (739, 0), (744, 3), (748, 3), (753, 8), (760, 8), (766, 11), (771, 13), (790, 13),
    (794, 15), (804, 15), (809, 16), (822, 16), (830, 18), (840, 18),
    (900, 0), (905, 1), (910, 2), (915, 2), (920, 6), (945, 6), (949, 8), (952, 8), (957, 10),
    (964, 10), (968, 12), (973, 13), (979, 13), (984, 15), (997, 15), (1001, 17), (1007, 19),
    (1013, 22), (1020, 24),
    (1080, 0), (1090, 0), (1094, 1), (1100, 1), (1106, 3), (1110, 6), (1114, 6), (1120, 9),
    (1125, 10), (1129, 10), (1133, 11), (1139, 13), (1145, 14), (1152, 14), (1157, 15),
    (1165, 15), (1170, 17), (1174, 18), (1180, 18), (1186, 20), (1190, 21), (1194, 24),
    (1200, 26),
    (1260, 0), (1265, 0), (1275, 6), (1284, 6), (1289, 8), (1294, 8), (1299, 12), (1304, 13),
    (1313, 13), (1318, 14), (1323, 15), (1336, 15), (1339, 17), (1344, 17), (1350, 20),
    (1355, 21), (1360, 21), (1365, 22), (1380, 22),
    (1440, 0), (1450, 0), (1455, 2), (1460, 3), (1465, 6), (1470, 8), (1474, 9), (1479, 10),
    (1486, 13), (1495, 13), (1500, 14), (1505, 14), (1510, 17), (1520, 17), (1524, 18),
    (1527, 20), (1531, 22), (1535, 23), (1540, 24), (1545, 24), (1548, 25), (1555, 26),
    (1560, 26),
    (1620, 0), (1627, 0), (1631, 1), (1635, 5), (1640, 7), (1645, 9), (1650, 10), (1666, 10),
    (1670, 11), (1675, 11), (1680, 13), (1685, 14), (1690, 16), (1694, 16), (1700, 19),
    (1706, 20), (1715, 20), (1720, 21), (1725, 24), (1730, 24), (1735, 26), (1740, 29)]

TRUTH_STEPH = [
    (0, 0), (24, 0), (30, 3), (59, 3), (64, 4), (79, 4), (85, 6), (90, 8), (94, 9), (120, 9),
    (180, 0), (190, 1), (199, 1), (204, 2), (216, 2), (221, 3), (227, 3), (232, 4), (244, 4),
    (249, 5), (253, 6), (262, 8), (272, 8), (278, 9), (283, 10), (289, 10), (294, 11), (300, 11),
    (360, 0), (369, 0), (373, 3), (378, 3), (382, 5), (386, 7), (390, 8), (397, 11), (401, 13),
    (406, 13), (411, 15), (415, 17), (420, 17), (426, 20), (448, 20), (453, 22), (459, 23),
    (465, 24), (470, 27), (479, 27),
    (540, 0), (569, 0), (573, 2), (580, 2), (585, 3), (600, 3), (605, 4), (610, 5), (615, 5),
    (620, 6), (626, 8), (645, 8), (653, 9), (660, 9),
    (720, 0), (731, 0), (736, 1), (740, 1), (746, 4), (750, 7), (757, 7), (765, 10), (771, 13),
    (790, 13), (795, 15), (801, 17), (806, 18), (812, 19), (822, 19), (830, 20), (840, 20),
    (900, 0), (906, 1), (912, 3), (920, 5), (928, 5), (931, 7), (935, 8), (945, 9), (950, 11),
    (958, 11), (962, 12), (968, 12), (974, 13), (983, 15), (990, 15), (995, 16), (999, 18),
    (1003, 18), (1010, 20), (1020, 22),
    (1080, 0), (1099, 0), (1102, 1), (1108, 4), (1113, 7), (1118, 9), (1150, 9), (1155, 10),
    (1160, 10), (1165, 11), (1170, 13), (1175, 13), (1180, 14), (1185, 15), (1195, 15),
    (1200, 20),
    (1260, 0), (1265, 0), (1270, 2), (1275, 4), (1284, 4), (1289, 6), (1294, 6), (1300, 8),
    (1313, 8), (1320, 10), (1337, 10), (1345, 12), (1350, 12), (1355, 14), (1360, 14),
    (1365, 15), (1370, 16), (1380, 16),
    (1440, 0), (1450, 0), (1455, 2), (1460, 3), (1465, 3), (1470, 5), (1479, 6), (1486, 8),
    (1495, 8), (1500, 9), (1505, 9), (1510, 11), (1520, 11), (1531, 13), (1540, 13),
    (1550, 15), (1555, 17), (1560, 18),
    (1620, 0), (1631, 0), (1635, 4), (1640, 7), (1645, 9), (1650, 9), (1654, 10), (1675, 10),
    (1680, 12), (1694, 12), (1700, 13), (1720, 13), (1725, 15), (1730, 15), (1735, 16),
    (1740, 18)]

PRED_LAUREN = [
    (0, 9.5), (10, 9.9), (20, 10.0), (30, 9.4), (40, 9.6), (50, 9.0), (60, 10.6), (70, 9.4),
    (80, 8.9), (90, 8.8), (100, 9.8), (110, 10.0), (120, 10.3), (150, 11.3), (180, 12.0),
    (192, 12.5), (204, 13.1), (211, 12.1), (220, 13.0), (230, 13.2), (240, 13.4), (250, 13.6),
    (262, 13.8), (275, 14.5), (288, 14.0), (300, 13.6), (360, 14.9), (372, 14.5), (385, 13.6),
    (392, 14.7), (404, 14.3), (417, 14.5), (427, 15.4), (437, 15.1), (446, 15.8), (459, 15.5),
    (469, 16.0), (475, 16.0), (479, 14.9), (540, 17.9), (550, 18.3), (559, 18.3), (572, 18.1),
    (582, 18.5), (592, 18.3), (598, 19.2), (604, 18.5), (614, 19.0), (624, 19.2), (633, 19.0),
    (643, 19.2), (653, 19.0), (660, 19.2), (720, 20.3), (727, 19.6), (740, 19.6), (753, 20.1),
    (766, 19.8), (778, 20.5), (791, 20.1), (804, 20.1), (817, 20.5), (835, 20.1), (849, 20.0),
    (868, 20.2), (900, 20.7), (907, 20.5), (920, 20.4), (933, 20.3), (943, 19.4), (949, 20.4),
    (959, 20.7), (972, 20.7), (985, 20.9), (997, 20.9), (1010, 21.1), (1020, 21.3),
    (1043, 21.8), (1062, 22.0), (1080, 22.4), (1091, 22.0), (1101, 22.6), (1114, 22.2),
    (1133, 21.6), (1146, 22.0), (1159, 22.6), (1172, 22.8), (1185, 23.1), (1197, 23.1),
    (1241, 22.6), (1260, 22.6), (1264, 19.5), (1268, 26.0), (1272, 28.0), (1276, 27.0),
    (1280, 28.5), (1285, 27.0), (1290, 28.0), (1295, 27.0), (1300, 28.5), (1304, 28.5),
    (1307, 22.0), (1310, 18.0), (1315, 16.0), (1322, 15.8), (1330, 16.0), (1337, 16.2),
    (1345, 16.5), (1360, 20.0), (1368, 21.7), (1380, 0.0), (1440, 22.0), (1740, 22.0)]

PRED_STEPH = [
    (0, 13.6), (8, 14.5), (17, 14.9), (24, 17.5), (30, 16.8), (40, 17.9), (50, 16.8),
    (59, 17.7), (72, 17.9), (82, 18.1), (95, 17.7), (108, 18.3), (120, 17.3), (133, 17.9),
    (153, 18.5), (172, 19.2), (180, 19.4), (191, 19.2), (198, 18.8), (208, 18.2), (217, 18.8),
    (230, 19.0), (243, 18.8), (249, 19.6), (262, 20.1), (275, 20.5), (282, 20.1), (288, 20.1),
    (300, 19.2), (314, 20.1), (340, 20.7), (360, 20.9), (369, 21.8), (379, 20.9), (385, 20.5),
    (395, 21.1), (404, 21.3), (417, 21.8), (427, 22.2), (437, 22.4), (446, 22.6), (456, 22.6),
    (469, 22.8), (475, 22.6), (479, 21.6), (489, 22.0), (502, 22.4), (521, 22.8), (540, 23.7),
    (550, 23.5), (559, 23.1), (569, 23.3), (578, 23.1), (588, 23.7), (598, 23.7), (608, 23.1),
    (617, 23.5), (624, 24.1), (633, 23.5), (643, 23.7), (653, 24.3), (660, 23.7), (675, 23.3),
    (695, 22.8), (720, 22.2), (727, 22.0), (740, 22.8), (753, 22.0), (766, 22.2), (779, 22.4),
    (791, 22.6), (804, 22.6), (817, 22.8), (835, 23.1), (850, 22.6), (900, 23.9), (907, 23.5),
    (920, 23.5), (933, 24.0), (946, 23.7), (956, 23.7), (965, 24.3), (978, 24.6), (991, 24.6),
    (1007, 24.6), (1020, 25.2), (1030, 25.4), (1043, 25.8), (1056, 26.3), (1069, 26.7),
    (1080, 26.8), (1091, 26.1), (1101, 26.1), (1114, 26.5), (1127, 26.3), (1136, 25.4),
    (1146, 26.1), (1159, 25.6), (1172, 26.1), (1185, 25.9), (1197, 25.9), (1210, 25.6),
    (1223, 25.6), (1236, 25.4), (1249, 25.4), (1260, 25.2), (1264, 21.0), (1266, 22.5),
    (1268, 30.4), (1272, 30.8), (1275, 30.6), (1280, 29.7), (1284, 28.5), (1291, 27.4),
    (1296, 26.8), (1302, 25.9), (1305, 25.6), (1307, 21.8), (1309, 17.5), (1312, 15.5),
    (1317, 14.3), (1323, 13.2), (1329, 12.3), (1336, 11.9), (1342, 12.5), (1349, 13.6),
    (1355, 14.7), (1362, 15.1), (1370, 16.2), (1380, 0.0), (1440, 16.0), (1740, 16.0)]

RED_BAND_UPPER = [
    (0, 19.2), (8, 19.8), (17, 18.8), (30, 19.4), (43, 18.3), (56, 17.9), (69, 17.3), (82, 17.9),
    (95, 17.0), (108, 18.3), (120, 19.2), (146, 19.6), (180, 20.9), (192, 22.4), (205, 22.2),
    (217, 22.4), (230, 22.4), (250, 22.6), (269, 22.6), (288, 23.1), (300, 22.6), (359, 23.5),
    (372, 23.3), (385, 23.1), (398, 23.5), (411, 23.7), (424, 23.9), (437, 24.1), (450, 24.3),
    (463, 24.6), (475, 24.4), (480, 24.6), (540, 26.9), (553, 27.4), (566, 27.2), (579, 27.4),
    (592, 27.6), (604, 27.6), (617, 27.8), (630, 27.6), (643, 27.8), (660, 28.0), (720, 28.2),
    (733, 28.0), (746, 28.0), (759, 28.2), (772, 28.0), (785, 28.0), (791, 28.2), (804, 27.8),
    (817, 28.0), (836, 27.2), (900, 27.8), (920, 27.6), (939, 28.0), (952, 27.1), (965, 27.6),
    (991, 28.0), (1020, 27.6), (1049, 28.4), (1080, 29.1), (1094, 28.7), (1107, 28.9),
    (1120, 28.2), (1133, 28.0), (1159, 28.2), (1172, 28.8), (1185, 28.4), (1197, 28.6),
    (1223, 28.2), (1241, 27.8), (1261, 26.1), (1264, 22.5), (1267, 31.2), (1270, 33.2),
    (1275, 32.1), (1280, 30.6), (1286, 29.5), (1292, 29.1), (1297, 29.3), (1299, 32.7),
    (1305, 32.7), (1307, 26.1), (1309, 17.5), (1318, 17.3), (1328, 17.1), (1337, 17.1)]
RED_BAND_LOWER = [
    (0, -0.1), (8, 0.5), (17, 1.6), (30, 0.9), (43, 1.6), (56, 0.9), (69, 0.5), (82, 0.1),
    (95, 1.1), (108, 1.6), (120, 1.4), (146, 1.8), (180, 2.7), (192, 2.9), (205, 3.7),
    (217, 3.7), (230, 4.2), (250, 4.6), (269, 5.2), (288, 5.4), (300, 5.0), (359, 6.7),
    (372, 6.3), (385, 5.8), (398, 6.3), (411, 6.9), (424, 7.2), (437, 6.3), (450, 6.9),
    (463, 7.2), (475, 7.4), (480, 5.7), (501, 6.7), (540, 9.5), (553, 9.7), (566, 10.2),
    (579, 10.2), (592, 10.6), (604, 10.2), (617, 11.0), (630, 10.8), (643, 11.0), (660, 10.6),
    (720, 13.0), (733, 12.7), (746, 13.2), (759, 12.5), (772, 13.0), (785, 13.4), (798, 13.2),
    (811, 12.7), (824, 13.4), (836, 12.5), (900, 13.6), (920, 12.7), (939, 13.2), (965, 13.8),
    (991, 14.4), (1020, 15.3), (1043, 15.5), (1080, 16.4), (1107, 15.8), (1133, 15.1),
    (1159, 16.8), (1185, 17.5), (1223, 17.7), (1261, 17.5), (1264, 16.0), (1267, 20.1),
    (1270, 23.1), (1275, 23.5), (1280, 22.9), (1286, 22.4), (1292, 22.2), (1299, 22.0),
    (1305, 22.0), (1307, 14.9), (1314, 14.0), (1325, 14.2), (1334, 14.9), (1337, 14.9)]
BLUE_BAND_UPPER = [
    (0, 19.2), (22, 19.2), (24, 31.0), (30, 31.9), (43, 31.2), (56, 31.4), (69, 31.6),
    (82, 31.4), (95, 31.0), (108, 31.4), (120, 31.9), (146, 32.1), (172, 32.5), (180, 32.3),
    (185, 31.6), (192, 31.2), (205, 31.2), (217, 31.0), (230, 31.0), (250, 31.2), (263, 31.4),
    (275, 31.6), (300, 31.2), (359, 31.4), (372, 32.1), (385, 32.3), (398, 32.7), (411, 32.9),
    (417, 33.4), (430, 33.4), (443, 33.8), (456, 33.1), (469, 33.8), (479, 33.6), (501, 34.0),
    (540, 34.7), (553, 34.2), (566, 33.8), (579, 34.2), (592, 34.0), (604, 33.6), (617, 33.8),
    (630, 34.0), (650, 34.2), (660, 33.8), (720, 31.4), (733, 31.2), (746, 31.6), (759, 31.0),
    (772, 31.2), (785, 31.0), (798, 31.2), (811, 31.0), (824, 31.2), (836, 31.2), (900, 31.9),
    (920, 32.1), (933, 32.3), (946, 32.5), (959, 32.3), (972, 32.5), (991, 32.3), (1011, 32.5),
    (1020, 32.9), (1043, 33.4), (1062, 33.8), (1080, 34.4), (1094, 33.8), (1107, 33.4),
    (1120, 33.8), (1133, 32.7), (1146, 32.7), (1159, 32.3), (1172, 32.5), (1185, 32.1),
    (1197, 31.9), (1210, 31.4), (1223, 31.2), (1236, 31.0), (1260, 30.4), (1264, 26.1),
    (1268, 35.1), (1272, 35.5), (1276, 34.6), (1283, 33.4), (1289, 32.1), (1296, 30.8),
    (1302, 29.7), (1305, 29.3), (1307, 21.8), (1310, 17.3), (1318, 17.1), (1325, 16.2),
    (1334, 13.2), (1344, 12.8), (1352, 13.2), (1357, 14.7)]
BLUE_BAND_LOWER = [
    (0, 0.7), (11, 1.8), (17, 2.4), (30, 2.9), (43, 3.1), (56, 3.5), (69, 3.7), (82, 4.2),
    (95, 4.6), (108, 4.8), (120, 3.7), (133, 4.1), (159, 5.2), (180, 5.9), (192, 6.3),
    (205, 5.9), (217, 7.2), (230, 6.7), (243, 7.4), (263, 7.6), (275, 8.5), (288, 7.4),
    (300, 7.2), (359, 9.7), (372, 10.6), (385, 10.6), (398, 10.2), (411, 11.2), (424, 11.0),
    (437, 11.6), (450, 12.3), (463, 11.8), (475, 12.8), (480, 9.3), (501, 10.6), (540, 12.8),
    (553, 13.2), (566, 14.0), (585, 14.5), (604, 14.0), (617, 14.5), (630, 14.7), (643, 14.5),
    (660, 13.4), (720, 13.8), (733, 13.4), (746, 13.8), (759, 13.6), (772, 14.0), (785, 14.3),
    (804, 14.5), (817, 14.9), (836, 14.2), (900, 15.8), (913, 15.6), (926, 16.2), (939, 15.1),
    (952, 15.6), (965, 16.2), (978, 16.2), (991, 16.8), (1004, 17.0), (1020, 17.5),
    (1043, 17.9), (1062, 18.5), (1080, 19.0), (1094, 19.0), (1107, 18.8), (1120, 19.4),
    (1133, 18.1), (1146, 18.8), (1159, 19.0), (1172, 19.4), (1185, 20.1), (1197, 20.1),
    (1223, 20.1), (1261, 18.3), (1264, 16.6), (1267, 20.9), (1270, 26.1), (1275, 24.4),
    (1280, 23.5), (1286, 22.6), (1292, 22.4), (1299, 22.0), (1305, 21.8), (1307, 15.5),
    (1310, 13.6), (1318, 12.3), (1328, 11.0), (1334, 10.6), (1344, 10.6), (1352, 11.9),
    (1357, 13.2)]

LEGEND_TRUTH_L = "Truth LAUREN PRICE: 22"
LEGEND_TRUTH_S = "Truth STEPHANIE PINEIRO: 16"
LEGEND_PRED_L = "Predicted LAUREN PRICE: 22.4"
LEGEND_PRED_S = "Predicted STEPHANIE PINEIRO: 25.1"


# ---------------------------------------------------------------- helpers
def rounds_to_points(rounds, tail):
    pts = []
    for start, vals in zip(ROUND_STARTS, rounds):
        for off, v in zip(GRID_OFFSETS, vals):
            pts.append((start + off, v))
    return pts + list(tail)


def rgba(hex_color, a):
    h = hex_color.lstrip("#")
    r, g, b = int(h[0:2], 16), int(h[2:4], 16), int(h[4:6], 16)
    return f"rgba({r},{g},{b},{a})"


def unzip(pts):
    return [p[0] for p in pts], [p[1] for p in pts]


# the page is captured with a small vertical offset/scale: map target pixel rows
def ypaper(target_px):
    return 1 - ((target_px - 7.4) / 0.9888) / H


LAUREN_SERIES = [
    (rounds_to_points(L_U4_MAIN, L_U4_TAIL), rounds_to_points(L_U4_LOW, L_U4_TAIL_LOW)),
    (rounds_to_points(L_U9_MAIN, L_U9_TAIL), rounds_to_points(L_U9_LOW, L_U9_TAIL_LOW)),
    (rounds_to_points(L_U14_MAIN, L_U14_TAIL), rounds_to_points(L_U14_LOW, L_U14_TAIL_LOW)),
    (rounds_to_points(L_U19_MAIN, L_U19_TAIL), rounds_to_points(L_U19_LOW, L_U19_TAIL_LOW)),
    (rounds_to_points(L_U24_MAIN, L_U24_TAIL), rounds_to_points(L_U24_LOW, L_U24_TAIL_LOW)),
    (L_U29_MAIN_PTS, L_U29_LOW_PTS),
    (L_U34_MAIN_PTS, L_U34_LOW_PTS),
    (L_U39_MAIN_PTS, L_U39_LOW_PTS),
    (L_U44_MAIN_PTS, L_U44_LOW_PTS),
    (L_U49_MAIN_PTS, L_U49_LOW_PTS),
]
STEPH_SERIES = [
    (rounds_to_points(S_U4_MAIN, S_U4_TAIL), rounds_to_points(S_U4_LOW, S_U4_TAIL_LOW)),
    (rounds_to_points(S_U9_MAIN, S_U9_TAIL), rounds_to_points(S_U9_LOW, S_U9_TAIL_LOW)),
    (rounds_to_points(S_U14_MAIN, S_U14_TAIL), rounds_to_points(S_U14_LOW, S_U14_TAIL_LOW)),
    (rounds_to_points(S_U19_MAIN, S_U19_TAIL), rounds_to_points(S_U19_LOW, S_U19_TAIL_LOW)),
    (rounds_to_points(S_U24_MAIN, S_U24_TAIL), rounds_to_points(S_U24_LOW, S_U24_TAIL_LOW)),
    (rounds_to_points(S_U29_MAIN, S_U29_TAIL), rounds_to_points(S_U29_LOW, S_U29_TAIL_LOW)),
    (rounds_to_points(S_U34_MAIN, S_U34_TAIL), rounds_to_points(S_U34_LOW, S_U34_TAIL_LOW)),
    (S_U39_MAIN_PTS, S_U39_LOW_PTS),
    (S_U44_MAIN_PTS, S_U44_LOW_PTS),
    (S_U49_MAIN_PTS, S_U49_LOW_PTS),
]

# ---------------------------------------------------------------- figure
fig = go.Figure()

X_DOM = [92.4 / W, 2078 / W]
Y_DOM_TOP = [ypaper(518.3), ypaper(52.4)]
Y_DOM_MID = [ypaper(1046.7), ypaper(579.3)]
Y_DOM_BOT = [ypaper(1418), ypaper(1106.7)]


def add_round_labels(xa, ya, yval):
    fig.add_trace(go.Scatter(
        x=[s + 2 for s in ROUND_STARTS], y=[yval] * len(ROUND_STARTS), text=ROUND_NAMES,
        mode="text", textposition="middle right",
        textfont=dict(family=FONT, size=14.5, color="rgba(85,85,85,0.9)"),
        showlegend=False, hoverinfo="skip", xaxis=xa, yaxis=ya))


def add_prob_panel(series, xa, ya, legend_name, grp_prefix):
    add_round_labels(xa, ya, 1.097)
    for i, (main, low) in enumerate(series):
        col = THRESHOLD_COLORS[i]
        mt, mv = unzip(main)
        lt, lv = unzip(low)
        fig.add_trace(go.Scatter(
            x=mt + lt[::-1], y=mv + lv[::-1], fill="toself", fillcolor=rgba(col, 0.11),
            line=dict(width=0), mode="lines", showlegend=False, hoverinfo="skip",
            xaxis=xa, yaxis=ya))
        fig.add_trace(go.Scatter(
            x=lt, y=lv, mode="lines", line=dict(color=rgba(col, 0.55), width=1.4, dash="2px,2.5px"),
            showlegend=False, hoverinfo="skip", xaxis=xa, yaxis=ya))
        fig.add_trace(go.Scatter(
            x=mt, y=mv, mode="lines", line=dict(color=rgba(col, 0.88), width=2.1),
            name=THRESHOLD_NAMES[i], legend=legend_name,
            legendgroup=f"{grp_prefix}{LEGEND_COLUMN[i]}", xaxis=xa, yaxis=ya))


add_prob_panel(LAUREN_SERIES, "x", "y", "legend", "top_c")
add_prob_panel(STEPH_SERIES, "x2", "y2", "legend2", "mid_c")

# bottom panel
add_round_labels("x3", "y3", 35.9)


def band_polygon(upper, lower):
    ut, uv = unzip(upper)
    lt, lv = unzip(lower)
    return ut + lt[::-1], uv + lv[::-1]


bx, by = band_polygon(RED_BAND_UPPER, RED_BAND_LOWER)
fig.add_trace(go.Scatter(x=bx, y=by, fill="toself", fillcolor="rgba(255,0,0,0.13)",
                         line=dict(color="rgba(255,0,0,0.16)", width=1), mode="lines",
                         showlegend=False, hoverinfo="skip", xaxis="x3", yaxis="y3"))
bx, by = band_polygon(BLUE_BAND_UPPER, BLUE_BAND_LOWER)
fig.add_trace(go.Scatter(x=bx, y=by, fill="toself", fillcolor="rgba(0,0,255,0.13)",
                         line=dict(color="rgba(0,0,255,0.16)", width=1), mode="lines",
                         showlegend=False, hoverinfo="skip", xaxis="x3", yaxis="y3"))

tx, ty = unzip(TRUTH_LAUREN)
fig.add_trace(go.Scatter(x=tx, y=ty, mode="lines", name=LEGEND_TRUTH_L, legend="legend3",
                         line=dict(color="rgba(255,0,0,0.75)", width=3.1),
                         xaxis="x3", yaxis="y3"))
tx, ty = unzip(TRUTH_STEPH)
fig.add_trace(go.Scatter(x=tx, y=ty, mode="lines", name=LEGEND_TRUTH_S, legend="legend3",
                         line=dict(color="rgba(0,0,255,0.72)", width=3.1),
                         xaxis="x3", yaxis="y3"))
px_, py_ = unzip(PRED_LAUREN)
fig.add_trace(go.Scatter(x=px_, y=py_, mode="lines", name=LEGEND_PRED_L, legend="legend3",
                         line=dict(color="rgba(255,0,0,0.55)", width=3.1, dash="3px,4.5px"),
                         xaxis="x3", yaxis="y3"))
px_, py_ = unzip(PRED_STEPH)
fig.add_trace(go.Scatter(x=px_, y=py_, mode="lines", name=LEGEND_PRED_S, legend="legend3",
                         line=dict(color="rgba(0,0,255,0.55)", width=3.1, dash="3px,4.5px"),
                         xaxis="x3", yaxis="y3"))

# round separators
shapes = []
for xa in ["x", "x2", "x3"]:
    ya = {"x": "y", "x2": "y2", "x3": "y3"}[xa]
    for s in ROUND_STARTS:
        shapes.append(dict(type="line", xref=xa, yref=f"{ya} domain", x0=s, x1=s, y0=0, y1=1,
                           line=dict(color="rgba(80,80,80,0.8)", width=1.3, dash="2px,3px"),
                           layer="below"))

AX_FONT = dict(family=FONT, size=14.5, color="black")
X_COMMON = dict(range=[-87, 1827], tickvals=[0, 250, 500, 750, 1000, 1250, 1500, 1750],
                showline=True, mirror=True, linecolor="black", linewidth=1.6,
                ticks="outside", ticklen=7, tickwidth=1.6, tickcolor="black",
                showgrid=False, zeroline=False, tickfont=AX_FONT, domain=X_DOM,
                ticklabelstandoff=4)
Y_COMMON = dict(showline=True, mirror=True, linecolor="black", linewidth=1.6,
                ticks="outside", ticklen=7, tickwidth=1.6, tickcolor="black",
                showgrid=True, gridcolor="#e4e4e4", gridwidth=1.4, zeroline=False,
                tickfont=AX_FONT, ticklabelstandoff=4)

LEG_TOP = dict(bgcolor="rgba(255,255,255,0.8)", bordercolor="#cccccc", borderwidth=1,
               font=dict(family=FONT, size=12.3, color="black"), orientation="h",
               traceorder="grouped", xanchor="right", yanchor="top", x=2070.6 / W,
               entrywidth=80, entrywidthmode="pixels", itemwidth=30)

fig.update_layout(
    width=W, height=H, margin=dict(l=0, r=0, t=0, b=0),
    paper_bgcolor="white", plot_bgcolor="white",
    font=dict(family=FONT, color="black"),
    shapes=shapes,
    xaxis=dict(**X_COMMON, anchor="y", showticklabels=False),
    xaxis2=dict(**X_COMMON, anchor="y2", showticklabels=False),
    xaxis3=dict(**X_COMMON, anchor="y3", showticklabels=True),
    yaxis=dict(**Y_COMMON, range=[0, 1.15], dtick=0.05, tick0=0, tickformat=".2f",
               domain=Y_DOM_TOP, anchor="x"),
    yaxis2=dict(**Y_COMMON, range=[0, 1.15], dtick=0.05, tick0=0, tickformat=".2f",
                domain=Y_DOM_MID, anchor="x2"),
    yaxis3=dict(**Y_COMMON, range=[-2.02, 38.1], dtick=5, tick0=0,
                domain=Y_DOM_BOT, anchor="x3"),
    legend=dict(**LEG_TOP, y=ypaper(54.5)),
    legend2=dict(**LEG_TOP, y=ypaper(582.7)),
    legend3=dict(bgcolor="rgba(255,255,255,0.8)", bordercolor="#cccccc", borderwidth=1,
                 font=dict(family=FONT, size=14.5, color="black"), orientation="v",
                 xanchor="left", yanchor="top", x=100 / W, y=ypaper(1114),
                 tracegroupgap=0, itemwidth=30),
    annotations=[
        dict(text=TITLE_LAUREN, x=1085 / W, y=ypaper(31), xref="paper", yref="paper",
             showarrow=False, font=dict(family=FONT, size=20.8, color="black"),
             xanchor="center", yanchor="middle"),
        dict(text=TITLE_STEPH, x=1085 / W, y=ypaper(559), xref="paper", yref="paper",
             showarrow=False, font=dict(family=FONT, size=20.8, color="black"),
             xanchor="center", yanchor="middle"),
        dict(text="Prob", x=28 / W, y=ypaper(285.4), xref="paper", yref="paper",
             showarrow=False, textangle=-90, font=dict(family=FONT, size=14, color="black"),
             xanchor="center", yanchor="middle"),
        dict(text="Prob", x=28 / W, y=ypaper(813), xref="paper", yref="paper",
             showarrow=False, textangle=-90, font=dict(family=FONT, size=14, color="black"),
             xanchor="center", yanchor="middle"),
        dict(text="Count", x=41.5 / W, y=ypaper(1262), xref="paper", yref="paper",
             showarrow=False, textangle=-90, font=dict(family=FONT, size=15, color="black"),
             xanchor="center", yanchor="middle"),
        dict(text="Fight time (seconds)", x=1085 / W, y=ypaper(1465), xref="paper",
             yref="paper", showarrow=False, font=dict(family=FONT, size=20.8, color="black"),
             xanchor="center", yanchor="middle"),
    ],
)

fig.write_html("out.html")
